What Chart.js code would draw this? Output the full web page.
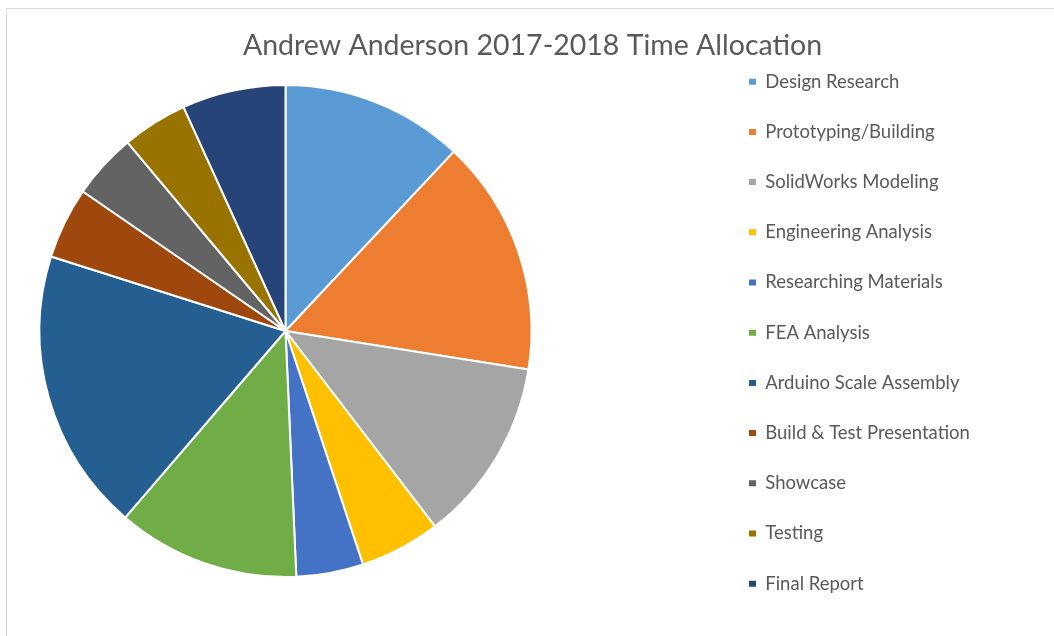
<!DOCTYPE html>
<html>
<head>
<meta charset="utf-8">
<script src="https://cdn.jsdelivr.net/npm/chart.js@4.4.1/dist/chart.umd.min.js"></script>
<style>
  html, body { margin: 0; padding: 0; background: #fff; overflow: hidden; }
  #wrap { position: relative; width: 1054px; height: 636px; }
  #frame { position: absolute; left: 6px; top: 8px; width: 1100px; height: 700px; border: 1px solid #d9d9d9; }
  #timeChart { position: absolute; left: 0; top: 0; }
</style>
</head>
<body>
<div id="wrap">
  <div id="frame"></div>
  <canvas id="timeChart" width="1054" height="636"></canvas>
</div>
<script>
const chartTitle = 'Andrew Anderson 2017-2018 Time Allocation';

const categories = [
    'Design Research',
    'Prototyping/Building',
    'SolidWorks Modeling',
    'Engineering Analysis',
    'Researching Materials',
    'FEA Analysis',
    'Arduino Scale Assembly',
    'Build & Test Presentation',
    'Showcase',
    'Testing',
    'Final Report'
];

// share of total time, %
const shares = [12.0, 15.5, 12.1, 5.3, 4.4, 12.0, 18.6, 4.7, 4.3, 4.3, 6.8];

const sliceColors = [
    '#5b9bd5', '#ed7d31', '#a5a5a5', '#ffc000', '#4472c4', '#70ad47',
    '#255e91', '#9e480e', '#636363', '#997300', '#264478'
];

// layout targets
const W = 1054, H = 636;
const pieX = 285.5, pieY = 331, pieRadius = 246;
const titleSize = 28.5, titleMidY = 45.5, titleCenterX = 532.5;
const legendSize = 18.5, legendPad = 31.7, legendBoxX = 749, legendFirstY = 81.7;
const boxW = 7, boxH = 6;
const textColor = '#595959';
const fontFamily = 'Lato, "Open Sans", sans-serif';

// the legend box is as wide as its longest label, so measure it to place things
const measure = document.createElement('canvas').getContext('2d');
measure.font = `${legendSize}px ${fontFamily}`;
const longest = Math.max(...categories.map(c => measure.measureText(c).width));
const legendWidth = legendPad + boxW + legendSize / 2 + longest + 10;
const legendLeft = legendBoxX - legendPad;
const padRight = W - legendLeft - legendWidth;
const padLeft = 2 * titleCenterX - W + padRight;
const areaRight = 2 * pieX - padLeft;
const gapRight = legendLeft - areaRight;

const titleLine = titleSize * 1.2;
const titlePadTop = titleMidY - titleLine / 2;
const titleHeight = titlePadTop + titleLine + 10;
const gapBottom = titleHeight - (2 * pieY - H);
const legendTitleGap = legendFirstY - legendSize / 2 - legendPad - 14.4;

// empty layout boxes so the chart area lands where the pie sits
function spacer(id, position, size, weight) {
    return {
        id: id,
        beforeInit(chart) {
            Chart.layouts.addBox(chart, {
                position: position,
                weight: weight,
                fullSize: false,
                options: {},
                isHorizontal() {
                    return position === 'top' || position === 'bottom';
                },
                update(maxWidth, maxHeight) {
                    this.width = this.isHorizontal() ? maxWidth : size;
                    this.height = this.isHorizontal() ? size : maxHeight;
                },
                draw() {}
            });
        }
    };
}

const ctx = document.getElementById('timeChart');

new Chart(ctx, {
    type: 'pie',
    data: {
        labels: categories,
        datasets: [{
            data: shares,
            backgroundColor: sliceColors,
            borderColor: '#ffffff',
            borderWidth: 2,
            radius: pieRadius
        }]
    },
    options: {
        responsive: false,
        animation: false,
        layout: {
            padding: { left: padLeft, right: padRight, top: 0, bottom: 0 }
        },
        plugins: {
            title: {
                display: true,
                text: chartTitle,
                color: textColor,
                font: { family: fontFamily, size: titleSize, weight: 'normal' },
                padding: { top: titlePadTop, bottom: 10 }
            },
            legend: {
                position: 'right',
                align: 'start',
                fullSize: true,
                maxWidth: 500,
                title: {
                    display: true,
                    text: '',
                    font: { size: 12 },
                    padding: { top: 0, bottom: legendTitleGap }
                },
                labels: {
                    color: textColor,
                    font: { family: fontFamily, size: legendSize },
                    boxWidth: boxW,
                    boxHeight: boxH,
                    padding: legendPad,
                    generateLabels(chart) {
                        const base = Chart.overrides.pie.plugins.legend.labels.generateLabels(chart);
                        return base.map(item => ({ ...item, lineWidth: 0 }));
                    }
                }
            },
            tooltip: { enabled: false }
        }
    },
    plugins: [
        spacer('gapRight', 'right', gapRight, 500),
        spacer('gapBottom', 'bottom', gapBottom, 500)
    ]
});
</script>
</body>
</html>
